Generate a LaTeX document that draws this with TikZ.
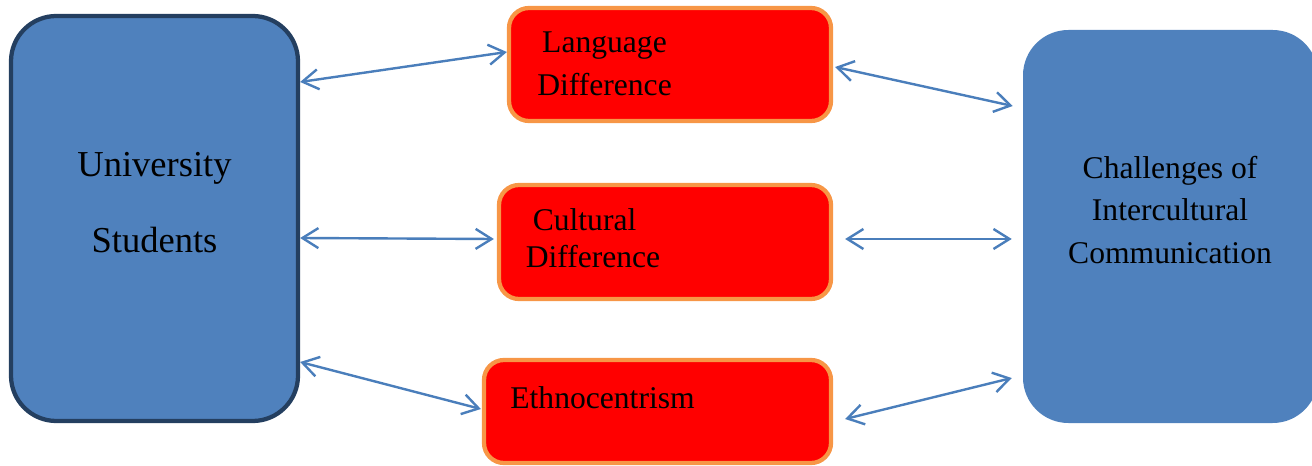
\documentclass[tikz,border=0pt]{standalone}
\usepackage{fontspec}
\setmainfont{Liberation Serif}
\usetikzlibrary{arrows.meta}

\definecolor{boxblue}{HTML}{4F81BD}
\definecolor{boxedge}{HTML}{243F60}
\definecolor{boxorange}{HTML}{F79646}
\definecolor{linkblue}{HTML}{4A7EBB}

\begin{document}
\begin{tikzpicture}[x=0.75pt,y=-0.75pt,
    >={Straight Barb[length=12pt,width=15pt]},
    bigbox/.style={rectangle,rounded corners=34pt,fill=boxblue,inner sep=0pt},
    redbox/.style={rectangle,rounded corners=15pt,draw=boxorange,fill=red,line width=3.2pt,inner sep=0pt},
    txt/.style={align=center,inner sep=0pt,text=black},
    link/.style={draw=linkblue,line width=1.8pt,<->}]

    \useasboundingbox (0,0) rectangle (1312,466);

    % side boxes
    \node[bigbox,draw=boxedge,line width=3.2pt,minimum width=215.25pt,minimum height=303.75pt] (uni) at (154.5,218.5) {};
    \node[bigbox,minimum width=221.25pt,minimum height=294.75pt] (chal) at (1170.5,226.5) {};

    % middle boxes
    \node[redbox,minimum width=241.5pt,minimum height=84.75pt] (lang) at (670,64.5) {};
    \node[redbox,minimum width=249pt,minimum height=85.5pt] (cult) at (665,242) {};
    \node[redbox,minimum width=260.25pt,minimum height=77.25pt] (eth) at (657.5,411.5) {};

    % texts
    \node[txt,font=\fontsize{27.4}{57}\selectfont] (unitxt) at (154.5,203) {University\\Students};
    \node[txt,font=\fontsize{23.7}{31.9}\selectfont] (chaltxt) at (1170,210) {Challenges of\\Intercultural\\Communication};
    \node[txt,font=\fontsize{23.7}{32.25}\selectfont] (langtxt) at (604.5,64) {Language\\Difference};
    \node[txt,align=left,font=\fontsize{23.7}{27.75}\selectfont] (culttxt) at (593,238.5) {\hspace*{5.25pt}Cultural\\Difference};
    \node[txt,font=\fontsize{23.7}{28}\selectfont] (ethtxt) at (602.5,398) {Ethnocentrism};

    % links
    \draw[link] ([shift={(0,-136.5)}]uni.east) -- ([shift={(0,-12.5)}]lang.west);
    \draw[link] ([shift={(2,2.5)}]lang.east) -- ([shift={(-10,-120.5)}]chal.west);
    \draw[link] ([shift={(0,19.5)}]uni.east) -- ([shift={(-3,-3)}]cult.west);
    \draw[link] ([shift={(12,-3)}]cult.east) -- ([shift={(-11,12.5)}]chal.west);
    \draw[link] ([shift={(0,143.5)}]uni.east) -- ([shift={(-1,-2.5)}]eth.west);
    \draw[link] ([shift={(12,7.5)}]eth.east) -- ([shift={(-11,151.5)}]chal.west);

\end{tikzpicture}
\end{document}
